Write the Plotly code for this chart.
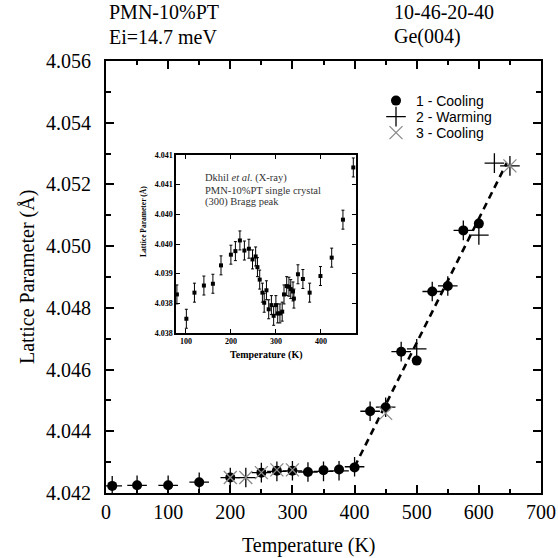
import plotly.graph_objects as go

# ---------------- main data ----------------
T_cool1 = [10, 50, 100, 150, 200, 250, 275, 300, 325, 350, 375, 400, 425, 450, 475, 500, 525, 550, 575, 600]
a_cool1 = [4.04223, 4.04225, 4.04225, 4.04235, 4.04250, 4.04266, 4.04272, 4.04272, 4.04268, 4.04274,
           4.04276, 4.04283, 4.04465, 4.04478, 4.04658, 4.04629, 4.04853, 4.04871, 4.05051, 4.05073]

T_warm = [10, 50, 100, 150, 200, 225, 250, 275, 300, 325, 350, 375, 400, 425, 450, 475, 500, 525, 550, 575, 600, 625, 650]
a_warm = [4.04223, 4.04225, 4.04225, 4.04235, 4.04250, 4.04250, 4.04266, 4.04270, 4.04272, 4.04268, 4.04270,
          4.04272, 4.04285, 4.04465, 4.04478, 4.04658, 4.04667, 4.04853, 4.04871, 4.05051, 4.05036, 4.05269, 4.05260]

T_cool3 = [200, 225, 250, 275, 300, 450, 650]
a_cool3 = [4.04250, 4.04250, 4.04266, 4.04275, 4.04275, 4.04458, 4.05260]

fit_T = [400, 645]
fit_a = [4.04285, 4.05270]

# ---------------- inset data (Dkhil et al.) ----------------
T_ins = [80, 101, 119, 140, 160, 178, 200, 210, 220, 230, 240, 248, 255, 259, 264, 270, 274, 279,
         284, 290, 295, 300, 304, 309, 314, 318, 324, 329, 333, 338, 340, 349, 360, 375, 399, 424, 449, 472]
a_ins = [4.03865, 4.03824, 4.03868, 4.03880, 4.03883, 4.03914, 4.03932, 4.03938, 4.03956, 4.03939,
         4.03942, 4.03924, 4.03929, 4.03911, 4.03890, 4.03868, 4.03851, 4.03872, 4.03840, 4.03847,
         4.03829, 4.03847, 4.03833, 4.03833, 4.03836, 4.03865, 4.03879, 4.03878, 4.03874, 4.03870,
         4.03858, 4.03899, 4.03891, 4.03868, 4.03896, 4.03927, 4.03991, 4.04079]
err_ins = [0.00016] * len(T_ins)

ins_yticks = [4.0380, 4.0385, 4.0390, 4.0395, 4.0400, 4.0405, 4.0410]
ins_yticktext = ["4.038", "4.038", "4.039", "4.040", "4.040", "4.041", "4.041"]
ins_xticks = [100, 200, 300, 400]

SERIF = "Liberation Serif"
SANS = "Liberation Sans"

fig = go.Figure()
fig.add_trace(go.Scatter(x=fit_T, y=fit_a, mode="lines", showlegend=False,
                         line=dict(color="black", width=2.6, dash="7px,5px")))
fig.add_trace(go.Scatter(x=T_cool1, y=a_cool1, mode="markers", name="1 - Cooling", legend="legend",
                         marker=dict(symbol="circle", size=10, color="black")))
fig.add_trace(go.Scatter(x=T_warm, y=a_warm, mode="markers", name="2 - Warming", legend="legend2",
                         marker=dict(symbol="cross-thin-open", size=14, color="black",
                                     line=dict(width=1.3, color="black"))))
fig.add_trace(go.Scatter(x=T_cool3, y=a_cool3, mode="markers", name="3 - Cooling", legend="legend3",
                         marker=dict(symbol="x-thin-open", size=13, color="#8a8a8a",
                                     line=dict(width=1.3, color="#8a8a8a"))))
fig.add_trace(go.Scatter(x=T_ins, y=a_ins, mode="markers", showlegend=False,
                         xaxis="x2", yaxis="y2",
                         marker=dict(symbol="square", size=4, color="black"),
                         error_y=dict(type="data", array=err_ins, color="black", thickness=1, width=1.5)))

axis_common = dict(showline=True, linecolor="black", mirror="ticks", showgrid=False, zeroline=False,
                   ticks="inside", tickcolor="black", automargin=False)

W, H = 558, 558
L, R, Tm, B = 106, 17, 61, 65
pw, ph = W - L - R, H - Tm - B


def px(x):
    return (x - L) / pw


def py(y):
    return (H - B - y) / ph


def leg(ypix):
    return dict(x=px(376), y=py(ypix), xanchor="left", yanchor="middle", bgcolor="rgba(0,0,0,0)",
                font=dict(family=SANS, size=14, color="black"))


fig.update_layout(
    width=W, height=H, autosize=False,
    margin=dict(l=L, r=R, t=Tm, b=B, autoexpand=False),
    paper_bgcolor="white", plot_bgcolor="white",
    font=dict(family=SERIF, color="black"),
    xaxis=dict(axis_common, range=[0, 700], dtick=100, linewidth=2, ticklen=8, tickwidth=2,
               tickfont=dict(family=SERIF, size=20),
               minor=dict(dtick=50, ticklen=4, tickwidth=1.5, ticks="inside", tickcolor="black")),
    yaxis=dict(axis_common, range=[4.042, 4.056], dtick=0.002, tickformat=".3f", linewidth=2,
               ticklen=8, tickwidth=2, tickfont=dict(family=SERIF, size=20), ticklabelstandoff=9,
               minor=dict(dtick=0.001, ticklen=5, tickwidth=1.5, ticks="inside", tickcolor="black")),
    xaxis2=dict(axis_common, domain=[px(176), px(356)], anchor="y2", range=[78, 478],
                tickvals=ins_xticks, linewidth=1.5, ticklen=4, tickwidth=1.2,
                tickfont=dict(family=SERIF, size=8, weight="bold")),
    yaxis2=dict(axis_common, domain=[py(333), py(155)], anchor="x2", range=[4.0380, 4.0410],
                tickvals=ins_yticks, ticktext=ins_yticktext, linewidth=1.5, ticklen=4, tickwidth=1.2,
                tickfont=dict(family=SERIF, size=8, weight="bold")),
    legend=leg(101),
    legend2=leg(117),
    legend3=leg(133),
    showlegend=True,
)

ann = [
    dict(text="PMN-10%PT", x=px(107), y=py(12), xanchor="left", yanchor="middle", font=dict(size=20)),
    dict(text="Ei=14.7 meV", x=px(107), y=py(37), xanchor="left", yanchor="middle", font=dict(size=20)),
    dict(text="10-46-20-40", x=px(392), y=py(12), xanchor="left", yanchor="middle", font=dict(size=20)),
    dict(text="Ge(004)", x=px(392), y=py(37), xanchor="left", yanchor="middle", font=dict(size=20)),
    dict(text="Temperature (K)", x=px(309), y=py(545), xanchor="center", yanchor="middle", font=dict(size=20)),
    dict(text="Lattice Parameter (Å)", x=px(27), y=py(277), xanchor="center", yanchor="middle",
         textangle=-90, font=dict(size=20)),
    dict(text="Dkhil <i>et al.</i> (X-ray)", x=px(203), y=py(178), xanchor="left", yanchor="middle",
         font=dict(size=10.5, color="#333")),
    dict(text="PMN-10%PT single crystal", x=px(203), y=py(190), xanchor="left", yanchor="middle",
         font=dict(size=10.5, color="#333")),
    dict(text="(300) Bragg peak", x=px(203), y=py(202), xanchor="left", yanchor="middle",
         font=dict(size=10.5, color="#333")),
    dict(text="<b>Temperature (K)</b>", x=px(266), y=py(355), xanchor="center", yanchor="middle",
         font=dict(size=10)),
    dict(text="<b>Lattice Parameter (Å)</b>", x=px(143), y=py(222), xanchor="center", yanchor="middle",
         textangle=-90, font=dict(size=7.5)),
]
for a in ann:
    a.update(xref="paper", yref="paper", showarrow=False)
    a["font"] = dict(dict(family=SERIF, color="black"), **a["font"])
fig.update_layout(annotations=ann)

fig.write_html("out.html")
